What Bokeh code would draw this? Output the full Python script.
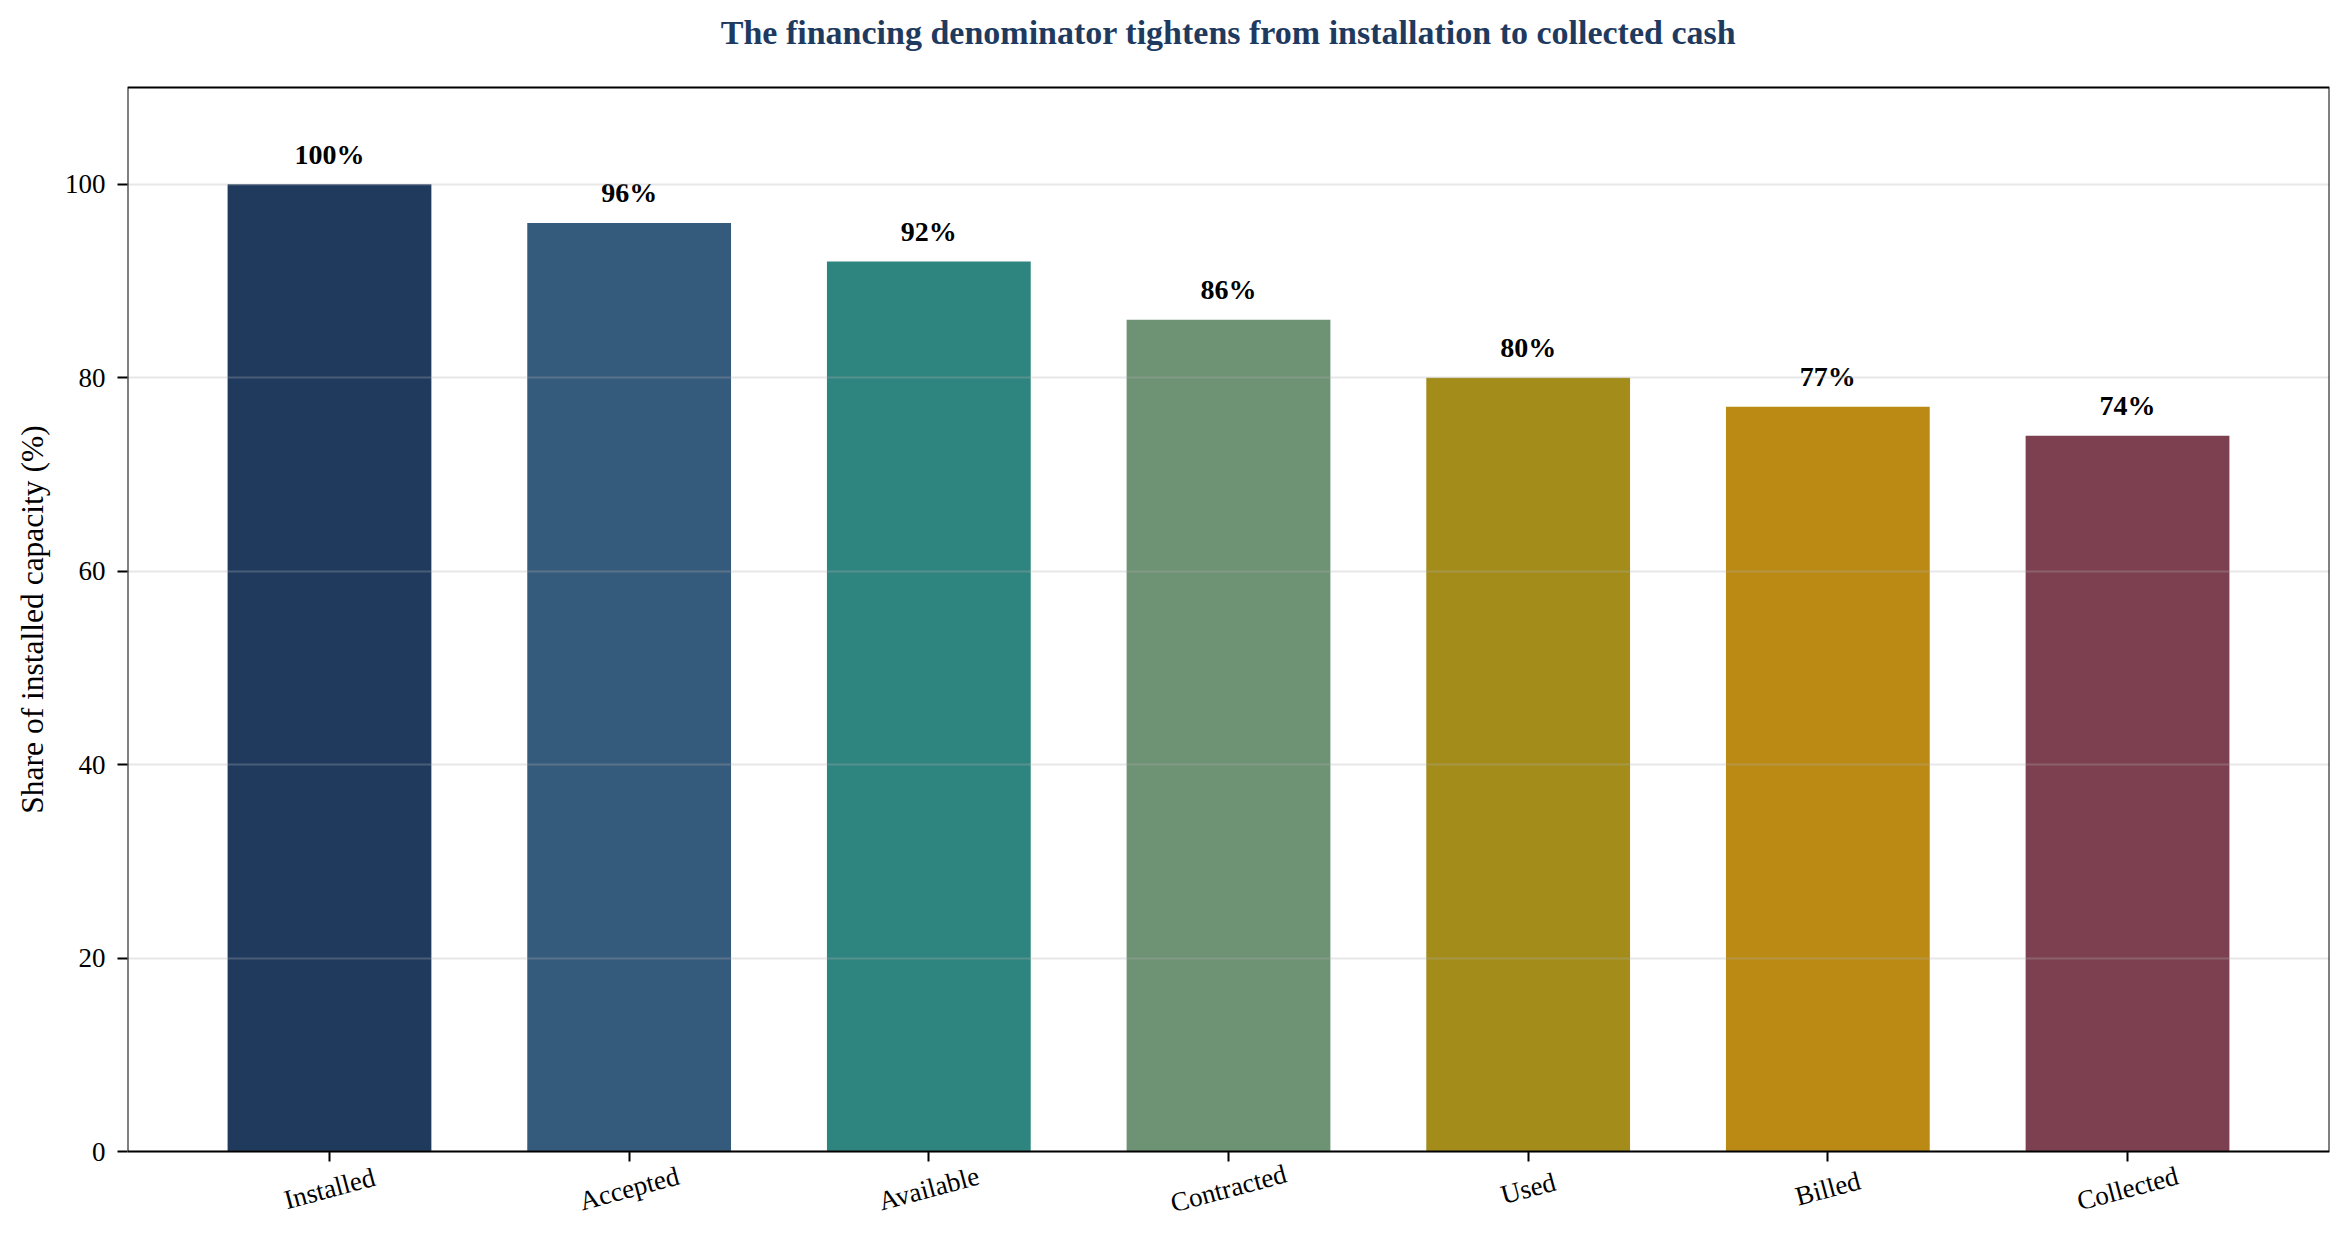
import math
from bokeh.plotting import figure
from bokeh.models import ColumnDataSource, Range1d, FixedTicker, BoxAnnotation
from bokeh.core.properties import value
from bokeh.embed import file_html
from bokeh.resources import INLINE

title = "The financing denominator tightens from installation to collected cash"
stages = ["Installed", "Accepted", "Available", "Contracted", "Used", "Billed", "Collected"]
shares = [100, 96, 92, 86, 80, 77, 74]
colors = ["#203a5e", "#345a7c", "#2e847e", "#6e9274", "#a38c1a", "#bb8a15", "#7c4050"]
labels = [f"{v}%" for v in shares]
y_ticks = [0, 20, 40, 60, 80, 100]
Y_MAX = 110

FONT = "Liberation Serif"
LEFT, RIGHT, FRAME_W = 127, 5, 2202
AXES_H = 1064            # pixel height of the 0..110 box
PAD = 87                 # extra room above (title) and below (category labels), inside the frame
px_per_unit = AXES_H / Y_MAX

xs = list(range(len(stages)))
src = ColumnDataSource(dict(x=xs, top=shares, color=colors, label=labels,
                            base=[0] * len(stages), stage=stages))

p = figure(width=LEFT + FRAME_W + RIGHT, height=AXES_H + 2 * PAD + 12, output_backend="svg",
           toolbar_location=None,
           x_range=Range1d(-0.674, len(stages) - 1 + 0.674),
           y_range=Range1d(-PAD / px_per_unit, Y_MAX + PAD / px_per_unit),
           min_border_left=LEFT, min_border_right=RIGHT, min_border_top=0, min_border_bottom=0,
           frame_width=FRAME_W, frame_height=AXES_H + 2 * PAD)
p.title.visible = False
p.background_fill_color = "white"
p.border_fill_color = "white"
p.outline_line_color = None

# axes box (spines) from 0 to 110
p.add_layout(BoxAnnotation(bottom=0, top=Y_MAX, fill_alpha=0, fill_color=None,
                           line_color="black", line_alpha=1.0, line_width=2, level="overlay"))

p.vbar(x="x", top="top", width=0.68, bottom=0, fill_color="color", line_color=None, source=src)

p.text(x="x", y="top", text="label", source=src, text_align="center", text_baseline="alphabetic",
       y_offset=-30, text_font=value(FONT), text_font_style="bold", text_font_size="28px",
       text_color="black")

# rotated category labels centred under their ticks
p.text(x="x", y="base", text="stage", source=src, text_align="center", text_baseline="middle",
       angle=math.radians(15), y_offset=37, text_font=value(FONT), text_font_size="27px",
       text_color="black")

# title centred over the axes box
p.text(x=[(len(stages) - 1) / 2], y=[Y_MAX], text=[title], text_align="center",
       text_baseline="alphabetic", y_offset=-55, text_font=value(FONT), text_font_style="bold",
       text_font_size="34px", text_color="#1f3a5f")

p.xaxis.fixed_location = 0
p.xaxis.ticker = FixedTicker(ticks=xs)
p.xaxis.major_label_overrides = {i: "" for i in xs}
p.xaxis.major_label_text_font_size = "0px"
p.xaxis.major_label_standoff = 0
p.yaxis.ticker = FixedTicker(ticks=y_ticks)
p.yaxis.axis_label = "Share of installed capacity (%)"
p.yaxis.major_label_text_font_size = "27px"
p.yaxis.major_label_standoff = 12

for ax in (p.xaxis, p.yaxis):
    ax.axis_line_color = None
    ax.major_tick_line_color = "black"
    ax.major_tick_line_width = 2
    ax.major_tick_in = 0
    ax.major_tick_out = 10
    ax.minor_tick_line_color = None
    ax.major_label_text_font = FONT
    ax.major_label_text_color = "black"
    ax.axis_label_text_font = FONT
    ax.axis_label_text_font_size = "31.5px"
    ax.axis_label_text_font_style = "normal"
    ax.axis_label_text_color = "black"
    ax.axis_label_standoff = 12

p.xgrid.grid_line_color = None
p.ygrid.grid_line_color = "#b0b0b0"
p.ygrid.grid_line_alpha = 0.3
p.ygrid.grid_line_width = 2
p.ygrid.level = "guide"

open("out.html", "w").write(file_html(p, INLINE))
